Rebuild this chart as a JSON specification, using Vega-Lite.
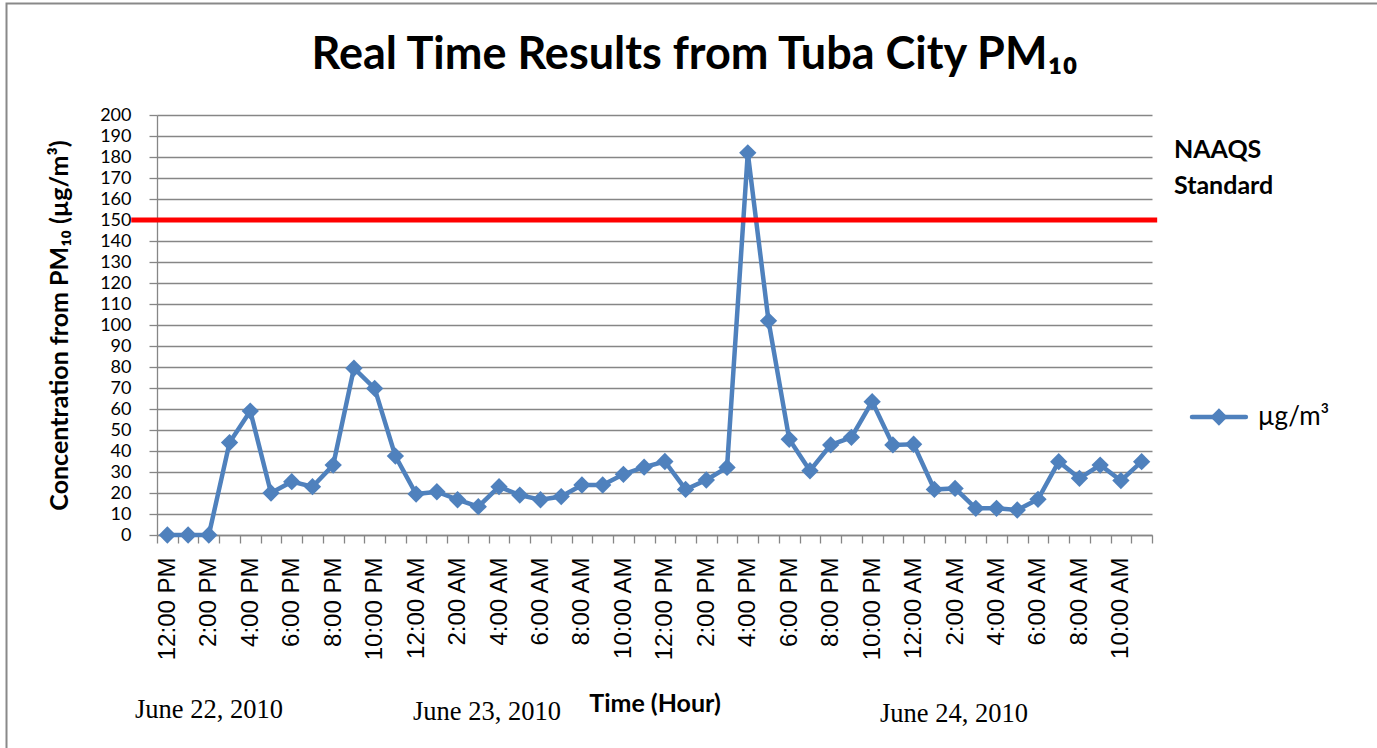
{
  "$schema": "https://vega.github.io/schema/vega-lite/v6.json",
  "width": 995,
  "height": 420,
  "autosize": "none",
  "padding": {"left": 157, "top": 115, "right": 225, "bottom": 213},
  "background": "white",
  "config": {
    "view": {"stroke": null},
    "axisY": {
      "titleFont": "Lato",
      "titleFontSize": 25,
      "titleFontWeight": "bold",
      "titleColor": "black",
      "titlePadding": 27,
      "labelFont": "Lato",
      "labelFontSize": 18,
      "labelColor": "black",
      "labelPadding": 18,
      "labelOverlap": false,
      "tickSize": 8,
      "tickColor": "#868686",
      "tickWidth": 1.3,
      "domainColor": "#868686",
      "domainWidth": 1.3,
      "grid": true,
      "gridColor": "#868686",
      "gridWidth": 1.3
    }
  },
  "title": {
    "text": "Real Time Results from Tuba City PM₁₀",
    "font": "Lato",
    "fontSize": 45,
    "fontWeight": "bold",
    "color": "black",
    "anchor": "middle",
    "frame": "group",
    "baseline": "alphabetic",
    "dx": 40,
    "offset": -112
  },
  "layer": [
    {
      "data": {
        "values": [
          {"hour": "00 12:00 PM", "pm10": 0},
          {"hour": "01 1:00 PM", "pm10": 0},
          {"hour": "02 2:00 PM", "pm10": 0},
          {"hour": "03 3:00 PM", "pm10": 44},
          {"hour": "04 4:00 PM", "pm10": 59},
          {"hour": "05 5:00 PM", "pm10": 20},
          {"hour": "06 6:00 PM", "pm10": 25.4},
          {"hour": "07 7:00 PM", "pm10": 23},
          {"hour": "08 8:00 PM", "pm10": 33.3},
          {"hour": "09 9:00 PM", "pm10": 79.4},
          {"hour": "10 10:00 PM", "pm10": 69.8},
          {"hour": "11 11:00 PM", "pm10": 37.6},
          {"hour": "12 12:00 AM", "pm10": 19.5},
          {"hour": "13 1:00 AM", "pm10": 20.6},
          {"hour": "14 2:00 AM", "pm10": 16.8},
          {"hour": "15 3:00 AM", "pm10": 13.5},
          {"hour": "16 4:00 AM", "pm10": 23},
          {"hour": "17 5:00 AM", "pm10": 19},
          {"hour": "18 6:00 AM", "pm10": 16.8},
          {"hour": "19 7:00 AM", "pm10": 18.3},
          {"hour": "20 8:00 AM", "pm10": 23.8},
          {"hour": "21 9:00 AM", "pm10": 23.8},
          {"hour": "22 10:00 AM", "pm10": 28.9},
          {"hour": "23 11:00 AM", "pm10": 32.3},
          {"hour": "24 12:00 PM", "pm10": 35},
          {"hour": "25 1:00 PM", "pm10": 21.7},
          {"hour": "26 2:00 PM", "pm10": 26.2},
          {"hour": "27 3:00 PM", "pm10": 32.2},
          {"hour": "28 4:00 PM", "pm10": 182},
          {"hour": "29 5:00 PM", "pm10": 102},
          {"hour": "30 6:00 PM", "pm10": 45.6},
          {"hour": "31 7:00 PM", "pm10": 30.6},
          {"hour": "32 8:00 PM", "pm10": 42.9},
          {"hour": "33 9:00 PM", "pm10": 46.5},
          {"hour": "34 10:00 PM", "pm10": 63.5},
          {"hour": "35 11:00 PM", "pm10": 42.9},
          {"hour": "36 12:00 AM", "pm10": 43.2},
          {"hour": "37 1:00 AM", "pm10": 21.7},
          {"hour": "38 2:00 AM", "pm10": 22.2},
          {"hour": "39 3:00 AM", "pm10": 12.7},
          {"hour": "40 4:00 AM", "pm10": 12.7},
          {"hour": "41 5:00 AM", "pm10": 11.9},
          {"hour": "42 6:00 AM", "pm10": 17},
          {"hour": "43 7:00 AM", "pm10": 34.9},
          {"hour": "44 8:00 AM", "pm10": 27},
          {"hour": "45 9:00 AM", "pm10": 33.3},
          {"hour": "46 10:00 AM", "pm10": 25.9},
          {"hour": "47 11:00 AM", "pm10": 34.9}
        ]
      },
      "mark": {
        "type": "line",
        "color": "#4f81bd",
        "strokeWidth": 4.5,
        "point": {"shape": "diamond", "size": 300, "filled": true, "color": "#4f81bd"}
      },
      "encoding": {
        "x": {
          "field": "hour",
          "type": "ordinal",
          "sort": null,
          "scale": {"type": "band", "paddingInner": 0, "paddingOuter": 0},
          "axis": {
            "title": "Time (Hour)",
            "titleFont": "Lato",
            "titleFontSize": 25,
            "titleFontWeight": "bold",
            "titleColor": "black",
            "titlePadding": 32,
            "labelExpr": "toNumber(substring(datum.value,0,2)) % 2 == 0 ? substring(datum.value,3) : ''",
            "labelAngle": -90,
            "labelFont": "Liberation Sans",
            "labelFontSize": 24,
            "labelColor": "black",
            "labelPadding": 14,
            "labelOverlap": false,
            "labelBound": false,
            "tickBand": "extent",
            "tickSize": 8,
            "tickColor": "#868686",
            "tickWidth": 1.3,
            "domainColor": "#868686",
            "domainWidth": 1.3,
            "grid": false
          }
        },
        "y": {
          "field": "pm10",
          "type": "quantitative",
          "scale": {"domain": [0, 200], "nice": false},
          "axis": {
            "title": "Concentration from PM₁₀ (µg/m³)",
            "values": [0, 10, 20, 30, 40, 50, 60, 70, 80, 90, 100, 110, 120, 130, 140, 150, 160, 170, 180, 190, 200],
            "tickCount": 40
          }
        }
      }
    },
    {
      "layer": [
        {
          "data": {"values": [{"x0": -1.24, "x1": 48.25, "v": 150}]},
          "mark": {"type": "rule", "color": "#ff0000", "strokeWidth": 5},
          "encoding": {
            "x": {"field": "x0", "type": "quantitative", "scale": {"domain": [0, 48], "nice": false, "zero": false}, "axis": null},
            "x2": {"field": "x1"},
            "y": {"field": "v", "type": "quantitative", "axis": null}
          }
        },
        {
          "data": {"values": [{"x": 49.06, "y": 183.3, "t": "NAAQS"}, {"x": 49.06, "y": 166.2, "t": "Standard"}]},
          "mark": {"type": "text", "font": "Lato", "fontSize": 25, "fontWeight": "bold", "align": "left", "baseline": "middle", "color": "black"},
          "encoding": {
            "x": {"field": "x", "type": "quantitative", "scale": {"domain": [0, 48], "nice": false, "zero": false}, "axis": null},
            "y": {"field": "y", "type": "quantitative", "axis": null},
            "text": {"field": "t"}
          }
        },
        {
          "data": {"values": [{"x": -1.06, "y": -83.3, "t": "June 22, 2010"}, {"x": 12.35, "y": -84.3, "t": "June 23, 2010"}, {"x": 34.88, "y": -85.2, "t": "June 24, 2010"}]},
          "mark": {"type": "text", "font": "Liberation Serif", "fontSize": 26.5, "align": "left", "baseline": "middle", "color": "black"},
          "encoding": {
            "x": {"field": "x", "type": "quantitative", "scale": {"domain": [0, 48], "nice": false, "zero": false}, "axis": null},
            "y": {"field": "y", "type": "quantitative", "axis": null},
            "text": {"field": "t"}
          }
        },
        {
          "data": {"values": [{"x": 49.93, "y": 56.2}, {"x": 52.53, "y": 56.2}]},
          "mark": {"type": "line", "color": "#4f81bd", "strokeWidth": 4.5, "strokeCap": "round"},
          "encoding": {
            "x": {"field": "x", "type": "quantitative", "scale": {"domain": [0, 48], "nice": false, "zero": false}, "axis": null},
            "y": {"field": "y", "type": "quantitative", "axis": null}
          }
        },
        {
          "data": {"values": [{"x": 51.23, "y": 56.2}]},
          "mark": {"type": "point", "shape": "diamond", "size": 300, "filled": true, "color": "#4f81bd", "opacity": 1},
          "encoding": {
            "x": {"field": "x", "type": "quantitative", "scale": {"domain": [0, 48], "nice": false, "zero": false}, "axis": null},
            "y": {"field": "y", "type": "quantitative", "axis": null}
          }
        },
        {
          "data": {"values": [{"x": 53.1, "y": 56.2, "t": "µg/m³"}]},
          "mark": {"type": "text", "font": "Lato", "fontSize": 26, "align": "left", "baseline": "middle", "color": "black"},
          "encoding": {
            "x": {"field": "x", "type": "quantitative", "scale": {"domain": [0, 48], "nice": false, "zero": false}, "axis": null},
            "y": {"field": "y", "type": "quantitative", "axis": null},
            "text": {"field": "t"}
          }
        },
        {
          "data": {"values": [{"x": -7.26, "x2": 80, "y": 253.1, "y2": -200}]},
          "mark": {"type": "rect", "fill": null, "stroke": "#898989", "strokeWidth": 2},
          "encoding": {
            "x": {"field": "x", "type": "quantitative", "scale": {"domain": [0, 48], "nice": false, "zero": false}, "axis": null},
            "x2": {"field": "x2"},
            "y": {"field": "y", "type": "quantitative", "axis": null},
            "y2": {"field": "y2"}
          }
        }
      ],
      "resolve": {"axis": {"y": "independent"}}
    }
  ],
  "resolve": {"scale": {"x": "independent"}, "axis": {"y": "independent"}}
}
